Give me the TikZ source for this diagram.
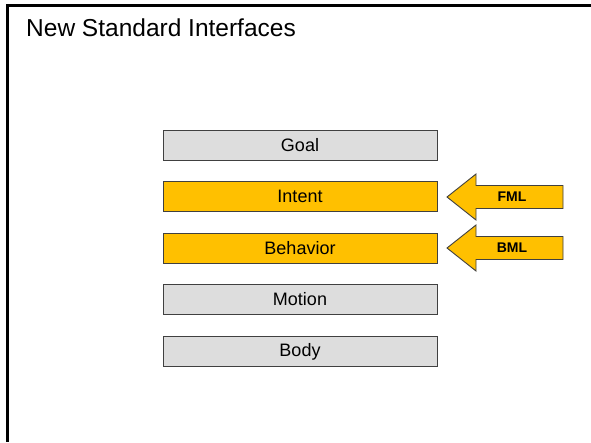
\documentclass[tikz,border=0pt]{standalone}
\usepackage{fontspec}
\setmainfont{Liberation Sans}
\definecolor{layergray}{HTML}{DDDDDD}
\definecolor{layergold}{HTML}{FFC000}
\definecolor{edgegray}{HTML}{404040}
\begin{document}
\begin{tikzpicture}[x=1pt,y=-1pt,
  layer/.style={draw=edgegray, line width=0.9pt, minimum width=274pt, minimum height=30pt,
    inner sep=0pt, font=\fontsize{18}{21}\selectfont},
  plain/.style={layer, fill=layergray},
  hot/.style={layer, fill=layergold},
  bigarrow/.style={draw=edgegray, line width=0.9pt, fill=layergold, line join=miter},
  arrowtext/.style={font=\fontsize{14}{16}\selectfont\bfseries, inner sep=0pt}]
\useasboundingbox (0,0) rectangle (591,442);
% slide frame (top and left edges)
\draw[line width=2.6pt, line join=miter] (591,5.5) -- (7.5,5.5) -- (7.5,442);
% title
\node[anchor=base west, inner sep=0pt, font=\fontsize{24.5}{29}\selectfont] (title) at (26,36) {New Standard Interfaces};
% layer stack
\node[plain] (goal)     at (300,145)   {Goal};
\node[hot]   (intent)   at (300,196.5) {Intent};
\node[hot]   (behavior) at (300,248)   {Behavior};
\node[plain] (motion)   at (300,299)   {Motion};
\node[plain] (body)     at (300,351.5) {Body};
% interface arrows
\draw[bigarrow] (447,197) -- (476,174) -- (476,185.5) -- (563,185.5) -- (563,208.5)
  -- (476,208.5) -- (476,220) -- cycle;
\node[arrowtext] (fml) at (512,197) {FML};
\draw[bigarrow] (447,248) -- (476,225) -- (476,236.5) -- (563,236.5) -- (563,259.5)
  -- (476,259.5) -- (476,271) -- cycle;
\node[arrowtext] (bml) at (512,248) {BML};
\end{tikzpicture}
\end{document}
